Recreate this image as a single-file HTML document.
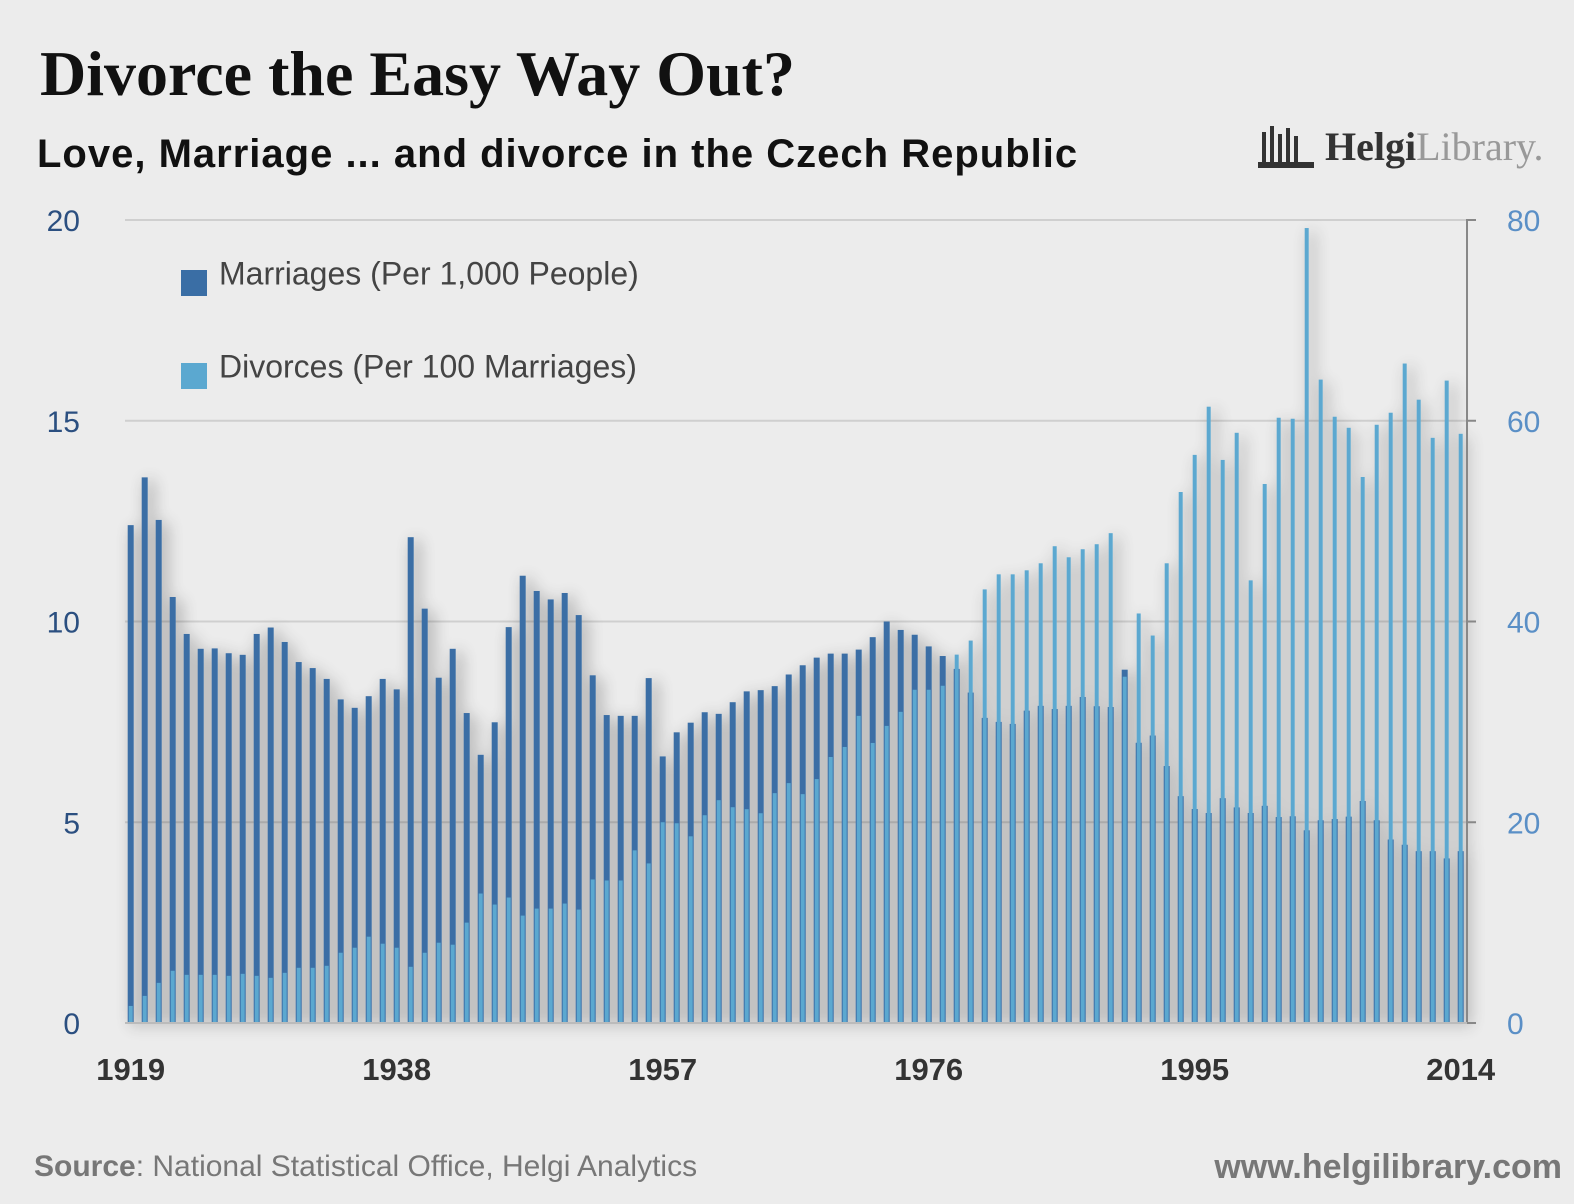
<!DOCTYPE html>
<html><head><meta charset="utf-8">
<style>
body{margin:0;background:#ececec;}
svg{display:block;}
</style></head>
<body>
<svg id="chart" width="1574" height="1204" viewBox="0 0 1574 1204" xmlns="http://www.w3.org/2000/svg">
<defs>
<filter id="sh" x="-10%" y="-10%" width="130%" height="130%">
<feGaussianBlur in="SourceAlpha" stdDeviation="8"/>
<feOffset dx="5" dy="3"/>
<feComponentTransfer><feFuncA type="linear" slope="0.42"/></feComponentTransfer>
<feMerge><feMergeNode/><feMergeNode in="SourceGraphic"/></feMerge>
</filter>
</defs>
<rect width="1574" height="1204" fill="#ececec"/>
<text x="40" y="95" font-family="Liberation Serif, serif" font-weight="bold" font-size="64" fill="#111">Divorce the Easy Way Out?</text>
<text x="37" y="167" font-family="Liberation Sans, sans-serif" font-weight="bold" font-size="40" letter-spacing="1.0" fill="#111">Love, Marriage ...  and divorce in the Czech Republic</text>
<g>
<rect x="1262" y="132" width="4" height="34" fill="#333"/><rect x="1270" y="126" width="4" height="40" fill="#333"/><rect x="1278" y="134" width="4" height="32" fill="#333"/><rect x="1286" y="128" width="4" height="38" fill="#333"/><rect x="1294" y="136" width="4" height="30" fill="#333"/><rect x="1258" y="162" width="56" height="6" fill="#333"/>
<text x="1325" y="160" font-family="Liberation Serif, serif" font-size="40" fill="#333"><tspan font-weight="bold">Helgi</tspan><tspan fill="#999">Library.</tspan></text>
</g>
<g id="grid"></g>
<g id="bars" filter="url(#sh)"></g>
<g id="axes"></g>
<g>
<rect x="181" y="270" width="26" height="26" fill="#3a6ea5"/>
<text x="219" y="276" font-family="Liberation Sans, sans-serif" font-size="32" fill="#444" dominant-baseline="middle">Marriages (Per 1,000 People)</text>
<rect x="181" y="363" width="26" height="26" fill="#5ba8d0"/>
<text x="219" y="369" font-family="Liberation Sans, sans-serif" font-size="32" fill="#444" dominant-baseline="middle">Divorces (Per 100 Marriages)</text>
</g>
<text x="34" y="1176" font-family="Liberation Sans, sans-serif" font-size="30" fill="#777"><tspan font-weight="bold">Source</tspan>: National Statistical Office, Helgi Analytics</text>
<text x="1562" y="1178" text-anchor="end" font-family="Liberation Sans, sans-serif" font-weight="bold" font-size="34" fill="#777">www.helgilibrary.com</text>
</svg>
<script>
const years = [];
for (let y = 1919; y <= 2014; y++) years.push(y);
const marriages = [12.40,13.59,12.53,10.61,9.69,9.32,9.33,9.21,9.17,9.69,9.85,9.49,8.99,8.84,8.57,8.06,7.85,8.14,8.57,8.31,
12.10,10.32,8.60,9.32,7.72,6.68,7.49,9.86,11.14,10.76,10.55,10.71,10.16,8.66,7.67,7.65,7.65,8.59,6.64,7.24,
7.48,7.74,7.70,7.99,8.26,8.29,8.39,8.68,8.91,9.10,9.20,9.20,9.30,9.61,10.0,9.79,9.67,9.38,9.14,8.82,
8.23,7.60,7.50,7.45,7.78,7.90,7.82,7.90,8.12,7.89,7.87,8.80,6.98,7.16,6.40,5.65,5.33,5.23,5.60,5.37,
5.23,5.41,5.13,5.15,4.80,5.05,5.08,5.14,5.53,5.05,4.57,4.44,4.28,4.28,4.10,4.28];
const divorces = [1.7,2.7,4.0,5.2,4.8,4.8,4.8,4.7,4.9,4.7,4.5,5.0,5.5,5.5,5.7,7.0,7.5,8.6,7.9,7.5,
5.6,7.0,8.0,7.8,10.0,12.9,11.8,12.5,10.7,11.4,11.4,11.9,11.3,14.3,14.2,14.2,17.2,15.9,20.0,19.9,
18.6,20.7,22.2,21.5,21.3,20.9,22.9,23.9,22.8,24.3,26.5,27.5,30.6,27.9,29.6,31.0,33.2,33.2,33.6,36.7,
38.1,43.2,44.7,44.7,45.1,45.8,47.5,46.4,47.2,47.7,48.8,34.5,40.8,38.6,45.8,52.9,56.6,61.4,56.1,58.8,
44.1,53.7,60.3,60.2,79.2,64.1,60.4,59.3,54.4,59.6,60.8,65.7,62.1,58.3,64.0,58.7];
const leftTicks = [0,5,10,15,20];
const rightTicks = [0,20,40,60,80];
const xTickLabels = [1919,1938,1957,1976,1995,2014];

const NS = 'http://www.w3.org/2000/svg';
const X0 = 130.7, STEP = 14, Y0 = 1023, Y1 = 220;
const xPos = i => X0 + STEP * i;
const yL = v => Y0 - (Y0 - Y1) * v / 20;
const yR = v => Y0 - (Y0 - Y1) * v / 80;
function mk(tag, attrs, parent){const e=document.createElementNS(NS,tag);for(const k in attrs)e.setAttribute(k,attrs[k]);parent.appendChild(e);return e;}
const grid=document.getElementById('grid'), bars=document.getElementById('bars'), axes=document.getElementById('axes');
leftTicks.forEach(t=>{
  const l=mk('line',{x1:125,x2:1467,y1:yL(t),y2:yL(t),stroke:'#cfcfcf','stroke-width':2},grid);
  
  
  const tx=mk('text',{x:80,y:yL(t)+11,'text-anchor':'end','font-family':'Liberation Sans, sans-serif','font-size':30,fill:'#2b4f80'},axes);
  tx.textContent=t;
  
  
});
rightTicks.forEach(t=>{
  const tx=mk('text',{x:1507,y:yR(t)+11,'font-family':'Liberation Sans, sans-serif','font-size':30,fill:'#5a8fc6'},axes);
  tx.textContent=t;
  
  
  const tk=mk('line',{x1:1467,x2:1476,y1:yR(t),y2:yR(t),stroke:'#888','stroke-width':2},axes);
  
  
});
const ra=mk('line',{x1:1467,x2:1467,y1:Y1-1,y2:Y0,stroke:'#888','stroke-width':2},axes);


const xa=mk('line',{x1:125,x2:1467,y1:Y0,y2:Y0,stroke:'#bbb','stroke-width':2},axes);


xTickLabels.forEach(yr=>{
  const i=years.indexOf(yr);
  const tx=mk('text',{x:xPos(i),y:1080,'text-anchor':'middle','font-family':'Liberation Sans, sans-serif','font-weight':'bold','font-size':31,fill:'#333'},axes);
  tx.textContent=yr;
  
  
});
years.forEach((yr,i)=>{
  const x=xPos(i);
  const m=mk('rect',{x:x-3,y:yL(marriages[i]),width:6,height:Y0-yL(marriages[i]),fill:'#3a6ea5'},bars);
  
  
  const d=mk('rect',{x:x-2,y:yR(divorces[i]),width:4,height:Y0-yR(divorces[i]),fill:'#5ba8d0'},bars);
  
  
});
</script>
</body></html>
